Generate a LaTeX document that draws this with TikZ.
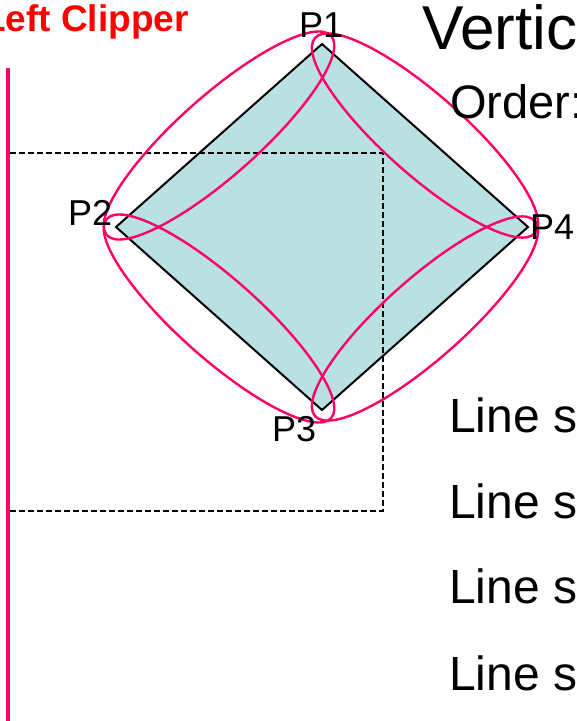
\documentclass[tikz,border=0pt]{standalone}
\usepackage{fontspec}
\setmainfont{Liberation Sans}
\usetikzlibrary{calc}
\begin{document}
\begin{tikzpicture}[x=1pt,y=-1pt]
\definecolor{pinkc}{RGB}{255,0,102}
\definecolor{fillc}{RGB}{185,224,227}
\tikzset{
  clipline/.style={draw=pinkc, line width=4pt},
  dashbox/.style={draw=black, line width=1.3pt, dash pattern=on 6pt off 3pt},
  poly/.style={draw=black, line width=2pt, fill=fillc, line join=miter},
  loopc/.style={draw=pinkc, line width=2.4pt},
  txt/.style={anchor=base west, inner sep=0pt, text=black},
  vlabel/.style={txt, font=\fontsize{36}{36}\selectfont},
  bigtxt/.style={txt, font=\fontsize{48}{48}\selectfont},
  titletxt/.style={anchor=base west, inner sep=0pt, text=red, font=\fontsize{37}{37}\selectfont\bfseries}
}
\useasboundingbox (0,0) rectangle (577,721);
\clip (0,0) rectangle (577,721);
\fill[white] (0,0) rectangle (577,721);
% polygon vertices
\coordinate (P1) at (322,44);
\coordinate (P2) at (116,227);
\coordinate (P3) at (322,410);
\coordinate (P4) at (528,227);
\draw[poly] (P1) -- (P2) -- (P3) -- (P4) -- cycle;
% dashed window
\coordinate (R1) at (8,153);
\coordinate (R2) at (383,511);
\draw[dashbox] (R1) rectangle (R2);
% left clipper line
\coordinate (C1) at (7.5,68);
\coordinate (C2) at (7.5,721);
\draw[clipline] (C1) -- (C2);
% loops along edges
\coordinate (M12) at ($(P1)!0.5!(P2)$);
\coordinate (M14) at ($(P1)!0.5!(P4)$);
\coordinate (M23) at ($(P2)!0.5!(P3)$);
\coordinate (M34) at ($(P3)!0.5!(P4)$);
\draw[loopc, rotate around={41.6:(M12)}] (M12) ellipse (150pt and 40pt);
\draw[loopc, rotate around={-41.6:(M14)}] (M14) ellipse (147pt and 40pt);
\draw[loopc, rotate around={-41.6:(M23)}] (M23) ellipse (150pt and 40pt);
\draw[loopc, rotate around={41.6:(M34)}] (M34) ellipse (147pt and 40pt);
% labels
\node[vlabel] (L1) at (299,37) {P1};
\node[vlabel] (L2) at (68,225) {P2};
\node[vlabel] (L3) at (272,441) {P3};
\node[vlabel] (L4) at (530,239) {P4};
\node[titletxt] (T0) at (-17,31) {Left Clipper};
\node[txt, font=\fontsize{62}{62}\selectfont] (T1) at (422,49) {Vertic};
\node[txt, font=\fontsize{47}{47}\selectfont] (T2) at (450,118) {Order:};
\node[bigtxt] (S1) at (449,432) {Line s};
\node[bigtxt] (S2) at (449,518) {Line s};
\node[bigtxt] (S3) at (449,603) {Line s};
\node[bigtxt] (S4) at (449,690) {Line s};
\end{tikzpicture}
\end{document}
